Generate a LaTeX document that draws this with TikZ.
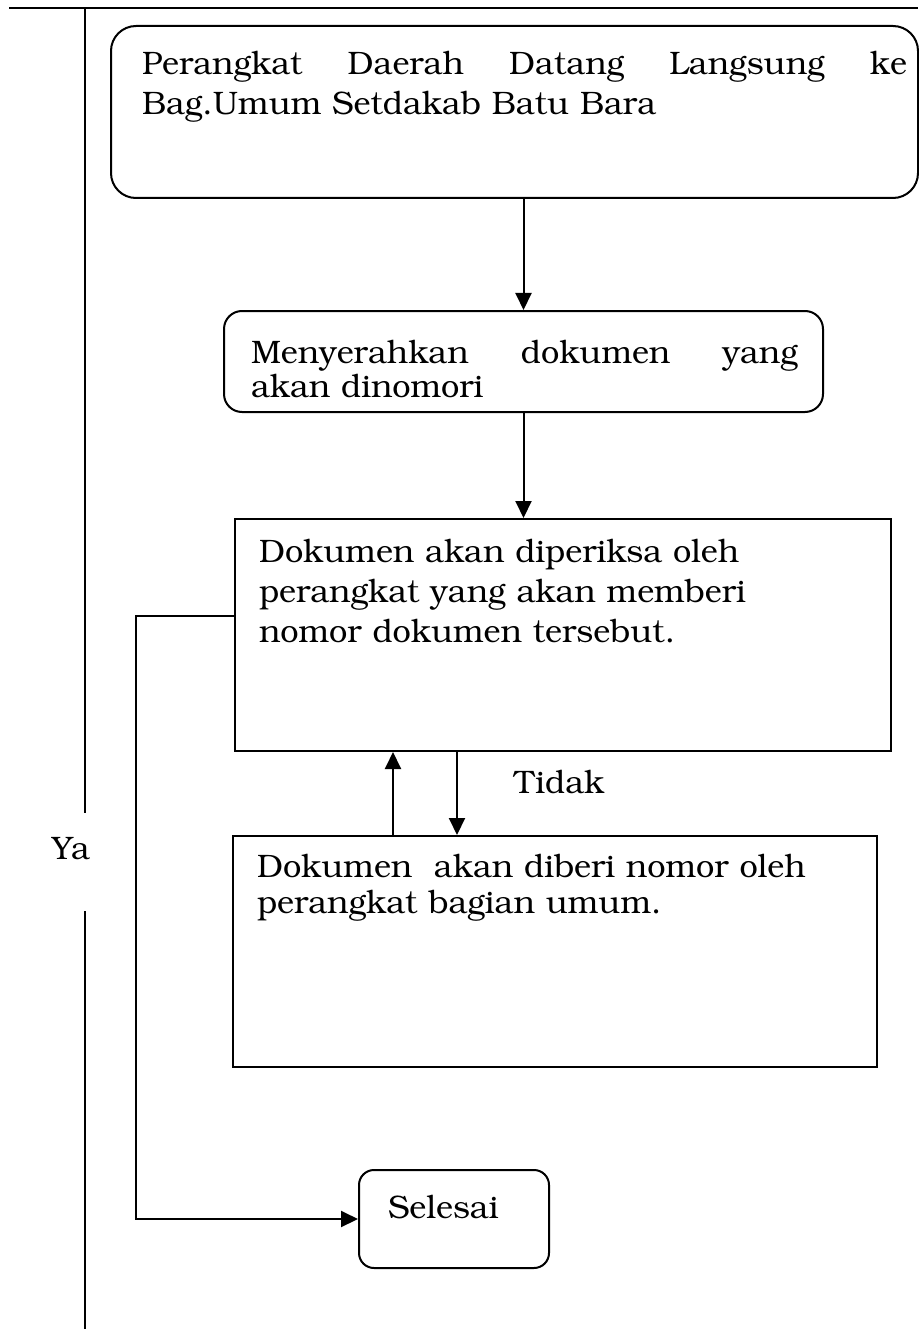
\documentclass[tikz,border=0pt]{standalone}
\usepackage[T1]{fontenc}
\usepackage{bookman}
\usetikzlibrary{arrows.meta}
\begin{document}
\begin{tikzpicture}[x=1pt,y=-1pt,
  line width=2pt,
  rbox/.style={draw, rounded corners=#1, inner sep=0pt, anchor=north west},
  sbox/.style={draw, inner sep=0pt, anchor=north west},
  txt/.style={inner sep=0pt, anchor=base west, align=left, font=\fontsize{32.5}{40}\selectfont},
  arr/.style={-{Triangle[length=17pt,width=16pt]}}
]
\useasboundingbox (0,0) rectangle (918,1329);
% frame lines
\coordinate (tl) at (9,8);
\coordinate (tr) at (918,8);
\draw (tl) -- (tr);
\coordinate (vtop) at (85,8);
\coordinate (vgapa) at (85,813);
\coordinate (vgapb) at (85,911);
\coordinate (vbot) at (85,1329);
\draw (vtop) -- (vgapa) (vgapb) -- (vbot);
\node[txt, anchor=base] (ya) at (71,859) {Ya};
% boxes
\node[rbox=25pt, minimum width=807pt, minimum height=172pt] (b1) at (110,25) {};
\node[txt, text width=765pt] (t1) at (141,75) {\hbox to 765pt{Perangkat\hfill Daerah\hfill Datang\hfill Langsung\hfill ke}\\Bag.Umum Setdakab Batu Bara};
\node[rbox=18pt, minimum width=599pt, minimum height=101pt] (b2) at (223,310) {};
\node[txt, text width=547pt, font=\fontsize{32.5}{34}\selectfont] (t2) at (250,363) {\hbox to 547pt{Menyerahkan\hfill dokumen\hfill yang}\\akan dinomori};
\node[sbox, minimum width=656pt, minimum height=232pt] (b3) at (234,518) {};
\node[txt, text width=620pt] (t3) at (258,562) {Dokumen akan diperiksa oleh\\perangkat yang akan memberi\\nomor dokumen tersebut.};
\node[sbox, minimum width=644pt, minimum height=231pt] (b4) at (232,835) {};
\node[txt, text width=610pt, font=\fontsize{32.5}{36}\selectfont] (t4) at (256,877) {Dokumen\ \ akan diberi nomor oleh\\perangkat bagian umum.};
\node[rbox=15pt, minimum width=190pt, minimum height=98pt] (sel) at (358,1169) {};
\node[txt] (t5) at (387,1218) {Selesai};
\node[txt] (tidak) at (513,793) {Tidak};
% connectors
\draw[arr] (b1.south -| b2.north) -- (b2.north);
\draw[arr] (b2.south) -- (b2.south |- b3.north);
\coordinate (ux) at (393,0);
\coordinate (dx) at (457,0);
\draw[arr] (b4.north -| ux) -- (b3.south -| ux);
\draw[arr] (b3.south -| dx) -- (b4.north -| dx);
\coordinate (lx) at (136,0);
\draw[arr] ([yshift=19pt]b3.west) -| (lx |- sel.west) -- (sel.west);
\end{tikzpicture}
\end{document}
